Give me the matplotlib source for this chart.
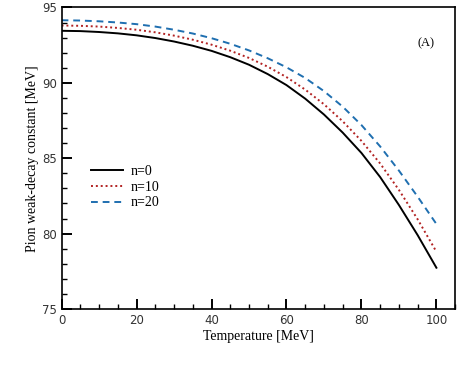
import matplotlib.pyplot as plt
from matplotlib.ticker import MultipleLocator

temperature = [0, 5, 10, 15, 20, 25, 30, 35, 40, 45, 50,
               55, 60, 65, 70, 75, 80, 85, 90, 95, 100]
f_n0 = [93.45, 93.43, 93.37, 93.28, 93.15, 92.97, 92.74, 92.46, 92.12, 91.70, 91.20,
        90.58, 89.85, 88.95, 87.90, 86.70, 85.35, 83.75, 81.90, 79.90, 77.74]
f_n10 = [93.80, 93.78, 93.73, 93.64, 93.52, 93.35, 93.13, 92.86, 92.53, 92.13, 91.65,
         91.07, 90.38, 89.55, 88.58, 87.45, 86.15, 84.65, 82.90, 80.95, 78.80]
f_n20 = [94.15, 94.13, 94.08, 94.00, 93.89, 93.73, 93.52, 93.27, 92.96, 92.59, 92.15,
         91.63, 91.03, 90.32, 89.45, 88.42, 87.20, 85.78, 84.18, 82.45, 80.64]

serif = 'Liberation Serif'

fig = plt.figure(figsize=(4.63, 3.71), dpi=100)
ax = fig.add_axes([0.133, 0.167, 0.85, 0.813])

ax.plot(temperature, f_n0, color='black', lw=1.4, ls='-', label='n=0')
ax.plot(temperature, f_n10, color='#b22222', lw=1.4, ls=(0, (1, 1.5)), label='n=10')
ax.plot(temperature, f_n20, color='#1f6fb0', lw=1.4, ls=(0, (3.5, 2.5)), label='n=20')

ax.set_xlim(0, 105)
ax.set_ylim(75, 95)
ax.xaxis.set_major_locator(MultipleLocator(20))
ax.xaxis.set_minor_locator(MultipleLocator(5))
ax.yaxis.set_major_locator(MultipleLocator(5))
ax.yaxis.set_minor_locator(MultipleLocator(1))
ax.tick_params(which='major', direction='in', length=7, width=1.4, labelsize=8.5,
               labelcolor='#333333', top=False, right=False)
ax.tick_params(which='minor', direction='in', length=3.5, width=1.0, top=False, right=False)
for s in ax.spines.values():
    s.set_linewidth(1.2)

ax.set_xlabel('Temperature [MeV]', family=serif, fontsize=10, labelpad=2)
ax.set_ylabel('Pion weak-decay constant [MeV]', family=serif, fontsize=10, labelpad=2)

ax.text(0.905, 0.87, '(A)', transform=ax.transAxes, family=serif, fontsize=9)

ax.legend(loc='center left', bbox_to_anchor=(0.042, 0.404), frameon=False,
          prop={'family': serif, 'size': 10}, handlelength=2.3, labelspacing=0.2,
          handletextpad=0.6)

fig.savefig('out.png', dpi=100)
